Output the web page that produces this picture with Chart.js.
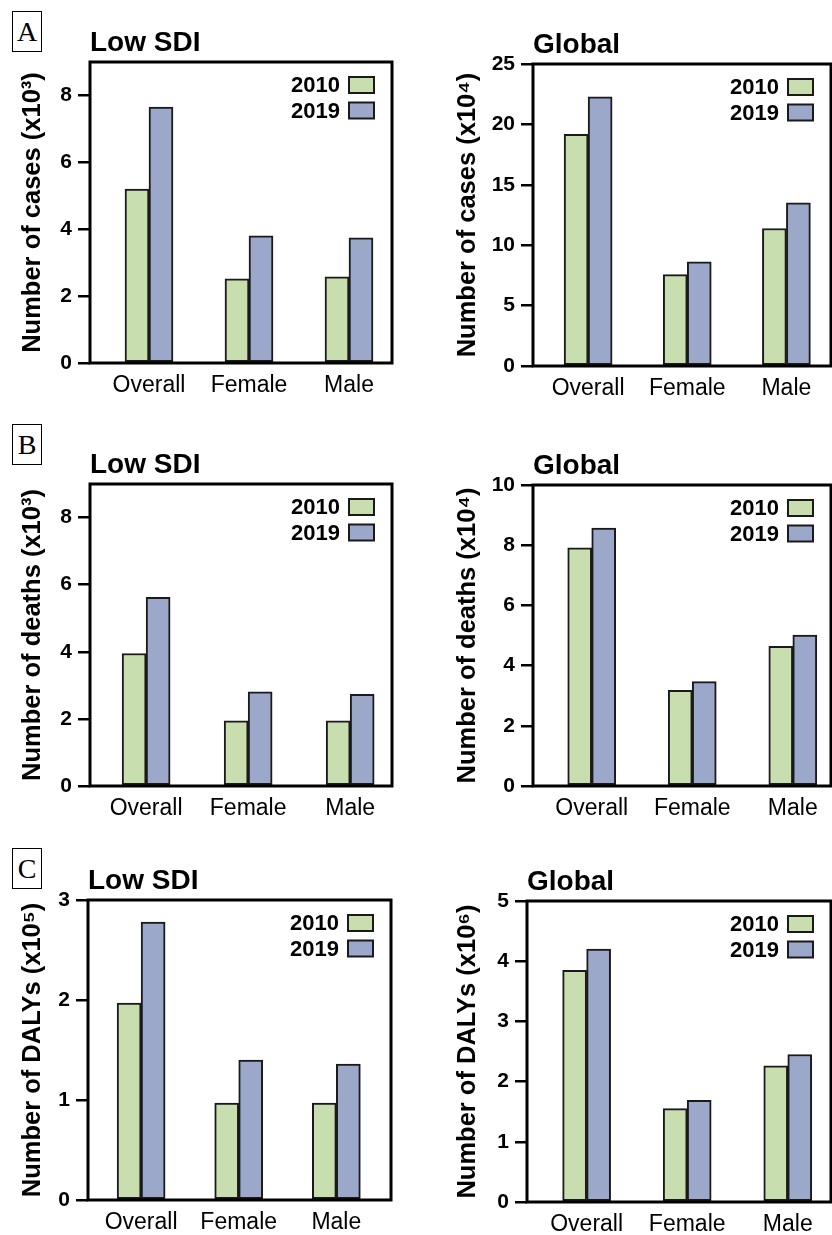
<!DOCTYPE html>
<html>
<head>
<meta charset="utf-8">
<script src="https://cdn.jsdelivr.net/npm/chart.js@4.4.1/dist/chart.umd.min.js"></script>
<style>
  html, body { margin: 0; padding: 0; background: #fff; }
  body { width: 832px; height: 1235px; position: relative; overflow: hidden; }
  .panel { position: absolute; }
  .tag {
    position: absolute; left: 12px; width: 28px; height: 39px;
    border: 1.5px solid #000; background: #fff;
    font-family: "Liberation Serif", "DejaVu Serif", serif;
    font-size: 28px; line-height: 40px; text-align: center; color: #000;
  }
</style>
</head>
<body>
<div class="tag" style="top:11px">A</div>
<div class="tag" style="top:424px">B</div>
<div class="tag" style="top:848px">C</div>

<script>
// Categories and series
const categories = ['Overall', 'Female', 'Male'];
const years = ['2010', '2019'];

// Number of cases
const casesLow2010 = [5.20, 2.52, 2.58];
const casesLow2019 = [7.65, 3.80, 3.74];
const casesGlobal2010 = [19.17, 7.57, 11.38];
const casesGlobal2019 = [22.29, 8.62, 13.50];

// Number of deaths
const deathsLow2010 = [3.95, 1.94, 1.94];
const deathsLow2019 = [5.62, 2.81, 2.73];
const deathsGlobal2010 = [7.91, 3.18, 4.64];
const deathsGlobal2019 = [8.57, 3.47, 5.01];

// Number of DALYs
const dalysLow2010 = [1.97, 0.97, 0.97];
const dalysLow2019 = [2.78, 1.40, 1.36];
const dalysGlobal2010 = [3.85, 1.55, 2.26];
const dalysGlobal2019 = [4.20, 1.69, 2.45];

const GREEN = '#c9deae';
const BLUE = '#9ca8c9';
const EDGE = '#1a1a1a';
const FONT = '"Liberation Sans", Arial, Helvetica, sans-serif';

const panels = [
  { title: 'Low SDI', yTitle: 'Number of cases (x10³)', a: casesLow2010, b: casesLow2019,
    yMax: 9, yStep: 2, xMin: -0.59, xMax: 2.43, frame: { l: 90, t: 62, r: 392, b: 363 }, left: 0 },
  { title: 'Global', yTitle: 'Number of cases (x10⁴)', a: casesGlobal2010, b: casesGlobal2019,
    yMax: 25, yStep: 5, xMin: -0.556, xMax: 2.45, frame: { l: 533, t: 64, r: 831, b: 366 }, left: 435 },
  { title: 'Low SDI', yTitle: 'Number of deaths (x10³)', a: deathsLow2010, b: deathsLow2019,
    yMax: 9, yStep: 2, xMin: -0.55, xMax: 2.41, frame: { l: 90, t: 484, r: 392, b: 786 }, left: 0 },
  { title: 'Global', yTitle: 'Number of deaths (x10⁴)', a: deathsGlobal2010, b: deathsGlobal2019,
    yMax: 10, yStep: 2, xMin: -0.584, xMax: 2.38, frame: { l: 533, t: 485, r: 831, b: 786 }, left: 435 },
  { title: 'Low SDI', yTitle: 'Number of DALYs (x10⁵)', a: dalysLow2010, b: dalysLow2019,
    yMax: 3, yStep: 1, xMin: -0.544, xMax: 2.56, frame: { l: 88, t: 900, r: 391, b: 1200 }, left: 0 },
  { title: 'Global', yTitle: 'Number of DALYs (x10⁶)', a: dalysGlobal2010, b: dalysGlobal2019,
    yMax: 5, yStep: 1, xMin: -0.593, xMax: 2.43, frame: { l: 527, t: 901, r: 831, b: 1202 }, left: 435 }
];

const TOP_SPACE = 62;
const BOTTOM_SPACE = 45;
const PAD_RIGHT = 8;

// Box around the plot area
const framePlugin = {
  id: 'frame',
  afterDatasetsDraw(chart) {
    const { ctx, chartArea } = chart;
    ctx.save();
    ctx.lineWidth = 3;
    ctx.strokeStyle = '#000';
    ctx.strokeRect(chartArea.left, chartArea.top, chartArea.right - chartArea.left, chartArea.bottom - chartArea.top);
    ctx.restore();
  }
};

// Legend inside the top-right corner, boxes right of the labels
const boxLegend = {
  id: 'boxLegend',
  afterDraw(chart) {
    const { ctx, chartArea } = chart;
    ctx.save();
    ctx.font = 'bold 22px ' + FONT;
    ctx.textAlign = 'right';
    ctx.textBaseline = 'middle';
    chart.data.datasets.forEach((ds, i) => {
      const bx = chartArea.right - 18 - 25;
      const by = chartArea.top + 15 + i * 25.5;
      ctx.fillStyle = ds.backgroundColor;
      ctx.fillRect(bx, by, 25, 16);
      ctx.lineWidth = 2;
      ctx.strokeStyle = EDGE;
      ctx.strokeRect(bx, by, 25, 16);
      ctx.fillStyle = '#000';
      ctx.fillText(ds.label, bx - 9, by + 9);
    });
    ctx.restore();
  }
};

function makePanel(p, idx) {
  const wrap = document.createElement('div');
  wrap.className = 'panel';
  const width = p.frame.r - p.left + PAD_RIGHT;
  const height = TOP_SPACE + (p.frame.b - p.frame.t) + BOTTOM_SPACE;
  wrap.style.left = p.left + 'px';
  wrap.style.top = (p.frame.t - TOP_SPACE) + 'px';
  wrap.style.width = width + 'px';
  wrap.style.height = height + 'px';
  const canvas = document.createElement('canvas');
  canvas.id = 'chart' + idx;
  canvas.width = width;
  canvas.height = height;
  wrap.appendChild(canvas);
  document.body.appendChild(wrap);

  const yAxisWidth = p.frame.l - p.left;

  return new Chart(canvas, {
    type: 'bar',
    data: {
      datasets: [
        { label: years[0], data: p.a.map((v, i) => ({ x: i, y: v })), backgroundColor: GREEN,
          borderColor: EDGE, borderWidth: 2, borderSkipped: false },
        { label: years[1], data: p.b.map((v, i) => ({ x: i, y: v })), backgroundColor: BLUE,
          borderColor: EDGE, borderWidth: 2, borderSkipped: false }
      ]
    },
    options: {
      responsive: false,
      animation: false,
      devicePixelRatio: 1,
      barThickness: 24,
      layout: { padding: { top: 0, right: PAD_RIGHT, bottom: 0, left: 0 } },
      plugins: {
        legend: { display: false },
        tooltip: { enabled: false },
        title: {
          display: true,
          text: p.title,
          align: 'start',
          fullSize: false,
          color: '#000',
          font: { family: FONT, size: 28, weight: 'bold' },
          padding: { top: 26.4, bottom: 2 }
        }
      },
      scales: {
        x: {
          type: 'linear',
          min: p.xMin,
          max: p.xMax,
          offset: false,
          bounds: 'data',
          grid: { display: false, offset: false },
          border: { display: false },
          ticks: {
            autoSkip: false,
            maxRotation: 0,
            padding: 1,
            color: '#000',
            font: { family: FONT, size: 23 },
            callback: (v) => categories[Math.round(v)]
          },
          // one tick per category
          afterBuildTicks: (scale) => { scale.ticks = categories.map((c, i) => ({ value: i })); },
          afterFit: (scale) => { scale.height = BOTTOM_SPACE; }
        },
        y: {
          min: 0,
          max: p.yMax,
          bounds: 'data',
          grid: { drawOnChartArea: false, drawTicks: true, tickLength: 12, lineWidth: 2.5, color: '#000' },
          border: { display: false },
          ticks: {
            stepSize: p.yStep,
            padding: 6,
            color: '#000',
            font: { family: FONT, size: 21, weight: 'bold' }
          },
          // drop the unlabelled top bound
          afterBuildTicks: (scale) => {
            scale.ticks = scale.ticks.filter(t => Math.abs(t.value / p.yStep - Math.round(t.value / p.yStep)) < 1e-6);
          },
          title: {
            display: true,
            text: p.yTitle,
            color: '#000',
            font: { family: FONT, size: 25.5, weight: 'bold' },
            padding: { top: 18, bottom: 0 }
          },
          afterFit: (scale) => { scale.width = yAxisWidth; }
        }
      }
    },
    plugins: [framePlugin, boxLegend]
  });
}

panels.forEach(makePanel);
</script>
</body>
</html>
